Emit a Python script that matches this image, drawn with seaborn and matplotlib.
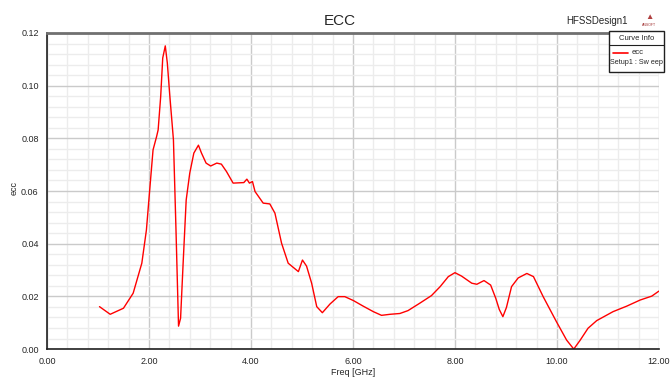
import matplotlib
matplotlib.use("Agg")
import matplotlib.pyplot as plt
from matplotlib.ticker import MultipleLocator, FormatStrFormatter
from matplotlib.patches import Rectangle
from matplotlib.lines import Line2D
import seaborn as sns
import pandas as pd

freq_ghz = [1.03, 1.24, 1.50, 1.69, 1.86, 1.95, 2.02, 2.08, 2.15, 2.18, 2.23, 2.27, 2.32, 2.36,
            2.41, 2.48, 2.53, 2.58, 2.62, 2.67, 2.73, 2.80, 2.88, 2.97, 3.03, 3.12, 3.21, 3.33,
            3.42, 3.52, 3.65, 3.86, 3.92, 3.97, 4.03, 4.08, 4.24, 4.37, 4.47, 4.60, 4.73, 4.93,
            5.01, 5.09, 5.19, 5.29, 5.40, 5.55, 5.71, 5.84, 6.01, 6.20, 6.40, 6.56, 6.73, 6.92,
            7.08, 7.31, 7.54, 7.71, 7.87, 8.00, 8.13, 8.33, 8.43, 8.57, 8.70, 8.80, 8.87, 8.94,
            9.01, 9.11, 9.24, 9.41, 9.54, 9.65, 9.73, 9.99, 10.19, 10.33, 10.45, 10.61, 10.78,
            11.10, 11.37, 11.63, 11.86, 12.00]
ecc = [0.0161, 0.0132, 0.0155, 0.0212, 0.0326, 0.0452, 0.0617, 0.0756, 0.0807, 0.0832, 0.0959,
       0.1105, 0.1151, 0.1086, 0.0959, 0.0794, 0.0452, 0.0087, 0.0117, 0.0326, 0.0566, 0.0668,
       0.0744, 0.0774, 0.0744, 0.0706, 0.0695, 0.0706, 0.0702, 0.0674, 0.0630, 0.0632, 0.0645,
       0.0630, 0.0636, 0.0598, 0.0554, 0.0551, 0.0516, 0.0402, 0.0326, 0.0294, 0.0338, 0.0315,
       0.0250, 0.0161, 0.0138, 0.0171, 0.0199, 0.0199, 0.0184, 0.0163, 0.0142, 0.0128, 0.0132,
       0.0135, 0.0146, 0.0174, 0.0203, 0.0237, 0.0275, 0.0290, 0.0277, 0.0250, 0.0246, 0.0260,
       0.0243, 0.0193, 0.0150, 0.0123, 0.0158, 0.0237, 0.0270, 0.0287, 0.0275, 0.0231, 0.0199,
       0.0104, 0.0034, 0.0000, 0.0032, 0.0079, 0.0108, 0.0142, 0.0163, 0.0186, 0.0201, 0.0220]

x_ticks = [0, 2, 4, 6, 8, 10, 12]
y_ticks = [0.00, 0.02, 0.04, 0.06, 0.08, 0.10, 0.12]

df = pd.DataFrame({"Freq [GHz]": freq_ghz, "ecc": ecc})

sns.set_style("white")
plt.rcParams["font.family"] = ["Liberation Sans", "DejaVu Sans"]

fig = plt.figure(figsize=(6.71, 3.79), dpi=100)
ax = fig.add_axes([0.070, 0.079, 0.912, 0.834])

ax.set_xlim(0, 12)
ax.set_ylim(0, 0.12)
ax.set_xticks(x_ticks)
ax.set_yticks(y_ticks)
ax.xaxis.set_minor_locator(MultipleLocator(0.4))
ax.yaxis.set_minor_locator(MultipleLocator(0.004))
ax.xaxis.set_major_formatter(FormatStrFormatter("%.2f"))
ax.yaxis.set_major_formatter(FormatStrFormatter("%.2f"))
ax.grid(which="major", color="#cacaca", linewidth=1.0)
ax.grid(which="minor", color="#ececec", linewidth=1.0)
ax.set_axisbelow(True)

sns.lineplot(data=df, x="Freq [GHz]", y="ecc", ax=ax, color="#ff0000", linewidth=1.0,
             estimator=None, sort=False)

ax.spines["right"].set_visible(False)
ax.spines["top"].set_color("#707070")
ax.spines["top"].set_linewidth(2.0)
ax.spines["left"].set_color("#202020")
ax.spines["left"].set_linewidth(1.2)
ax.spines["bottom"].set_color("#202020")
ax.spines["bottom"].set_linewidth(1.2)

ax.tick_params(which="major", direction="inout", length=8, width=0.8, labelsize=6.5, color="#202020", pad=2)
ax.tick_params(which="minor", direction="inout", length=5, width=0.8, color="#202020")
ax.set_xlabel("Freq [GHz]", fontsize=6.5, labelpad=1)
ax.set_ylabel("ecc", fontsize=6.5)
ax.yaxis.set_label_coords(-0.046, 0.51)

fig.text(0.507, 0.945, "ECC", ha="center", va="center", fontsize=11)
fig.text(0.935, 0.945, "HFSSDesign1", ha="right", va="center", fontsize=7)
fig.text(0.968, 0.935, "ANSOFT", ha="center", va="center", fontsize=2.5, color="#a03030")
fig.text(0.968, 0.955, "\u25b2", ha="center", va="center", fontsize=6, color="#b04040")

# Curve info box
lx0, ly0, lw, lh = 609 / 671, 1 - 72 / 379, 55 / 671, 41 / 379
fig.patches.append(Rectangle((lx0, ly0), lw, lh, transform=fig.transFigure,
                             facecolor="white", edgecolor="#202020", linewidth=1.0, zorder=5))
fig.lines.append(Line2D([lx0, lx0 + lw], [1 - 45 / 379] * 2, transform=fig.transFigure,
                        color="#202020", linewidth=0.8, zorder=6))
fig.text(lx0 + lw / 2, 1 - 38 / 379, "Curve Info", ha="center", va="center", fontsize=5.5, zorder=7)
fig.lines.append(Line2D([613 / 671, 628 / 671], [1 - 53 / 379] * 2, transform=fig.transFigure,
                        color="#ff0000", linewidth=1.2, zorder=6))
fig.text(632 / 671, 1 - 53 / 379, "ecc", ha="left", va="center", fontsize=5.5, zorder=7)
fig.text(lx0 + lw / 2, 1 - 63 / 379, "Setup1 : Sw eep", ha="center", va="center", fontsize=5.2, zorder=7)

fig.savefig("out.png", dpi=100)
